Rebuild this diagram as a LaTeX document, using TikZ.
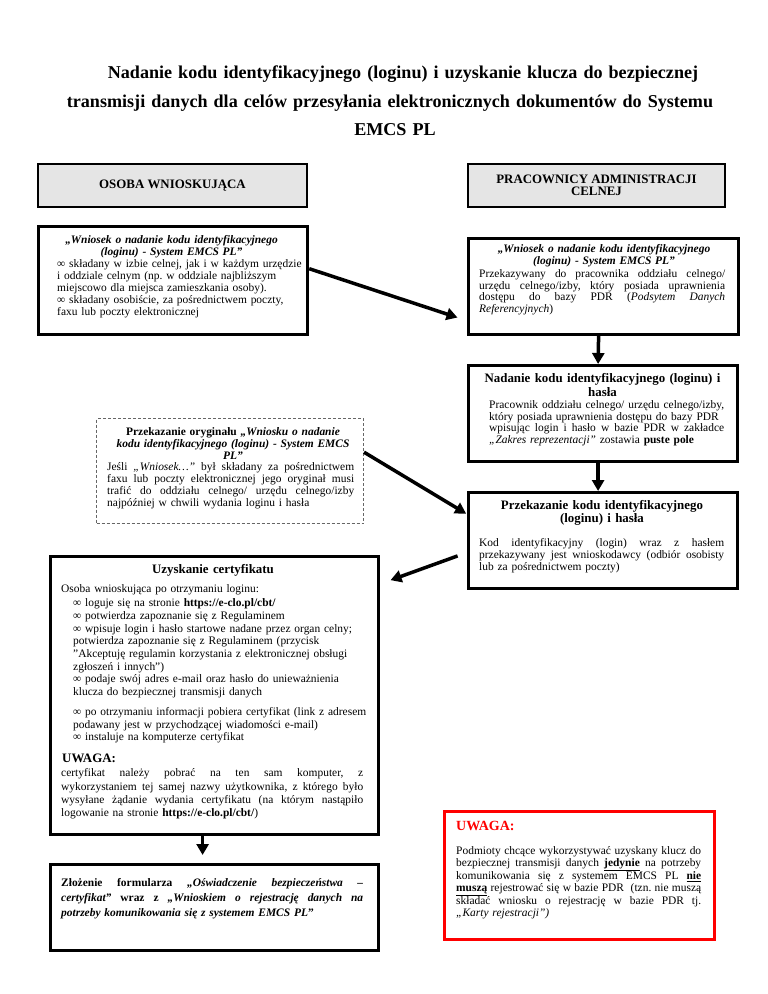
\documentclass[tikz,border=0pt]{standalone}
\usepackage{fontspec}
\setmainfont{Liberation Serif}
\usetikzlibrary{arrows.meta}
\newcommand{\J}[2]{\leavevmode\hbox to #1pt{\spaceskip=0.25em plus 1fil\relax\xspaceskip=\spaceskip\relax #2}}
\newcommand{\fsz}[2]{\fontsize{#1pt}{#2pt}\selectfont}
\tikzset{
  hdrbox/.style={draw, line width=2pt, fill=black!10, inner sep=0pt, anchor=north west, align=center, font=\fsz{12.9}{12}\bfseries},
  thickbox/.style={draw, line width=3.2pt, inner sep=0pt, anchor=north west},
  dashbox/.style={draw=black!60, line width=1pt, dash pattern=on 3pt off 2pt, inner sep=0pt, anchor=north west},
  redbox/.style={draw=red, line width=3.2pt, inner sep=0pt, anchor=north west},
  bodytext/.style={inner sep=0pt, anchor=north west, align=left, text width=#1pt},
  headtext/.style={inner sep=0pt, anchor=north, align=center, text width=#1pt},
  flowarrow/.style={line width=3.5pt, -{Triangle[length=11pt,width=12pt]}},
}
\begin{document}
\frenchspacing
\begin{tikzpicture}[x=1pt,y=-1pt]
\fill[white] (0,0) rectangle (768,994);
\useasboundingbox (0,0) rectangle (768,994);

% title
\node[headtext=720, font=\fsz{18.1}{28.5}\bfseries] (title) at (395,58.5)
  {\strut\hspace*{16pt}Nadanie kodu identyfikacyjnego (loginu) i uzyskanie klucza do bezpiecznej\\
   transmisji danych dla celów przesyłania elektronicznych dokumentów do Systemu\hspace*{10pt}\mbox{}\\
   EMCS PL};

% headers
\node[hdrbox, minimum width=269pt, minimum height=43pt] (hl) at (37,163) {OSOBA WNIOSKUJĄCA};
\node[hdrbox, minimum width=257pt, minimum height=43pt] (hr) at (467,163) {PRACOWNICY ADMINISTRACJI\\CELNEJ};

% left Wniosek
\node[thickbox, minimum width=269pt, minimum height=108pt] (wl) at (37,225) {};
\node[headtext=260, font=\fsz{11.45}{11}\bfseries\itshape] (wlt) at (171.5,234.8)
  {\strut„Wniosek o nadanie kodu identyfikacyjnego\\(loginu) - System EMCS PL”};
\node[bodytext=290, font=\fsz{11.45}{12}] (wlb) at (57,259.1)
  {\strut∞ składany w izbie celnej, jak i w każdym urzędzie\\
   i oddziale celnym (np. w oddziale najbliższym\\
   miejscowo dla miejsca zamieszkania osoby).\\
   ∞ składany osobiście, za pośrednictwem poczty,\\
   faxu lub poczty elektronicznej};

% right Wniosek
\node[thickbox, minimum width=270pt, minimum height=96pt] (wr) at (467,237) {};
\node[headtext=260, font=\fsz{11.45}{11.5}\bfseries\itshape] (wrt) at (604,244.5)
  {\strut„Wniosek o nadanie kodu identyfikacyjnego\\(loginu) - System EMCS PL”};
\node[bodytext=280, font=\fsz{11.45}{11.5}] (wrb) at (479,269.45)
  {\strut\J{246}{Przekazywany do pracownika oddziału celnego/}\\
   \J{246}{urzędu celnego/izby, który posiada uprawnienia}\\
   \J{246}{dostępu do bazy PDR (\textit{Podsytem Danych}}\\
   \textit{Referencyjnych})};

% Nadanie
\node[thickbox, minimum width=269pt, minimum height=96pt] (nad) at (467,364) {};
\node[headtext=260, font=\fsz{12.9}{12}\bfseries] (nadt) at (602.5,373.6)
  {\strut Nadanie kodu identyfikacyjnego (loginu) i\\hasła};
\node[bodytext=280, font=\fsz{11.45}{11.5}] (nadb) at (489,400.45)
  {\strut\J{235}{Pracownik oddziału celnego/ urzędu celnego/izby,}\\
   który posiada uprawnienia dostępu do bazy PDR\\
   \J{235}{wpisując login i hasło w bazie PDR w zakładce}\\
   \textit{„Zakres reprezentacji”} zostawia \textbf{puste pole}};

% Przekazanie kodu
\node[thickbox, minimum width=269pt, minimum height=96pt] (prz) at (467,491) {};
\node[headtext=260, font=\fsz{12.9}{13}\bfseries] (przt) at (602,499.9)
  {\strut Przekazanie kodu identyfikacyjnego\\(loginu) i hasła};
\node[bodytext=280, font=\fsz{11.45}{12}] (przb) at (479,538.1)
  {\strut\J{245}{Kod identyfikacyjny (login) wraz z hasłem}\\
   \J{245}{przekazywany jest wnioskodawcy (odbiór osobisty}\\
   lub za pośrednictwem poczty)};

% dashed box
\node[dashbox, minimum width=267pt, minimum height=105pt] (org) at (96,418) {};
\node[headtext=260, font=\fsz{11.45}{11.5}\bfseries] (orgt) at (233,427)
  {\strut Przekazanie oryginału \textit{„Wniosku o nadanie}\\
   \textit{kodu identyfikacyjnego (loginu) - System EMCS}\\
   \textit{PL”}};
\node[bodytext=280, font=\fsz{11.45}{12}] (orgb) at (107,462.1)
  {\strut\J{247}{Jeśli \textit{„Wniosek…”} był składany za pośrednictwem}\\
   \J{247}{faxu lub poczty elektronicznej jego oryginał musi}\\
   \J{247}{trafić do oddziału celnego/ urzędu celnego/izby}\\
   najpóźniej w chwili wydania loginu i hasła};

% certificate box
\node[thickbox, minimum width=328pt, minimum height=278pt] (cert) at (49,555) {};
\node[headtext=320, font=\fsz{12.9}{13}\bfseries] (certt) at (213,563.9)
  {\strut Uzyskanie certyfikatu};
\node[bodytext=320, font=\fsz{11.45}{12}] (certa) at (61,584.1)
  {\strut Osoba wnioskująca po otrzymaniu loginu:};
\node[bodytext=330, font=\fsz{11.45}{12.7}] (certl) at (73,597.6)
  {\strut∞ loguje się na stronie \textbf{https://e-clo.pl/cbt/}\\
   ∞ potwierdza zapoznanie się z Regulaminem\\
   ∞ wpisuje login i hasło startowe nadane przez organ celny;\\
   potwierdza zapoznanie się z Regulaminem (przycisk\\
   "Akceptuję regulamin korzystania z elektronicznej obsługi\\
   zgłoszeń i innych”)\\
   ∞ podaje swój adres e-mail oraz hasło do unieważnienia\\
   klucza do bezpiecznej transmisji danych};
\node[bodytext=330, font=\fsz{11.45}{12.5}] (certm) at (73,706.75)
  {\strut∞ po otrzymaniu informacji pobiera certyfikat (link z adresem\\
   podawany jest w przychodzącej wiadomości e-mail)\\
   ∞ instaluje na komputerze certyfikat};
\node[bodytext=300, font=\fsz{12.9}{13}\bfseries] (certu) at (62,753.4)
  {\strut UWAGA:};
\node[bodytext=330, font=\fsz{11.45}{13.3}] (certn) at (61,767.2)
  {\strut\J{302}{certyfikat należy pobrać na ten sam komputer, z}\\
   \J{302}{wykorzystaniem tej samej nazwy użytkownika, z którego było}\\
   \J{302}{wysyłane żądanie wydania certyfikatu (na którym nastąpiło}\\
   logowanie na stronie \textbf{https://e-clo.pl/cbt/})};

% bottom box
\node[thickbox, minimum width=328pt, minimum height=86pt] (osw) at (49,863) {};
\node[bodytext=330, font=\fsz{11.45}{15}\bfseries] (oswb) at (61,876)
  {\strut\J{302}{Złożenie formularza \textit{„Oświadczenie bezpieczeństwa –}}\\
   \J{302}{\textit{certyfikat”} wraz z \textit{„Wnioskiem o rejestrację danych na}}\\
   \textit{potrzeby komunikowania się z systemem EMCS PL}”};

% red box
\node[redbox, minimum width=270pt, minimum height=128pt] (uw) at (443,810) {};
\node[bodytext=245, font=\fsz{14}{14}\bfseries, text=red] (uwt) at (456,820.2)
  {\strut UWAGA:};
\node[bodytext=280, font=\fsz{11.45}{11.7}] (uwb) at (456,846.3)
  {\strut\J{245}{Podmioty chcące wykorzystywać uzyskany klucz do}\\
   \J{245}{bezpiecznej transmisji danych \underline{\textbf{jedynie}} na potrzeby}\\
   \J{245}{komunikowania się z systemem EMCS PL \underline{\textbf{nie}}}\\
   \J{245}{\underline{\textbf{muszą}} rejestrować się w bazie PDR\ \ (tzn. nie muszą}\\
   \J{245}{składać wniosku o rejestrację w bazie PDR tj.}\\
   \textit{„Karty rejestracji”)}};

% arrows
\draw[flowarrow, shorten >=10pt] (wl.5) -- (wr.194.5);
\draw[flowarrow] ([xshift=-5pt]wr.south) -- ([xshift=-5pt]nad.north);
\draw[flowarrow] ([xshift=-5pt]nad.south) -- ([xshift=-5pt]prz.north);
\draw[flowarrow, shorten >=1pt] (org.8.7) -- (prz.169.1);
\draw[flowarrow, shorten <=10pt, shorten >=11pt] (prz.185.4) -- (cert.34.7);
\draw[flowarrow, shorten >=8pt] ([xshift=-12pt]cert.south) -- ([xshift=-12pt]osw.north);
\end{tikzpicture}
\end{document}
